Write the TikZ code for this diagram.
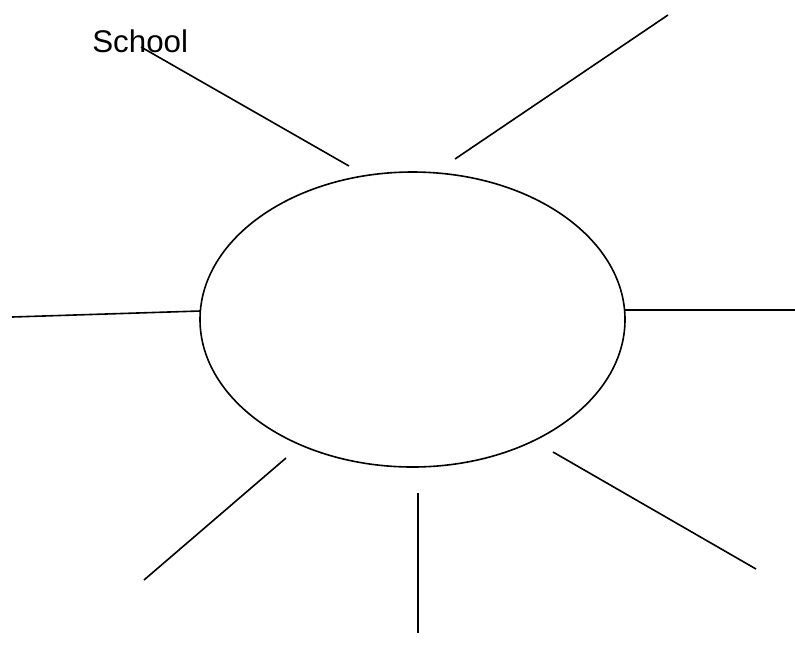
\documentclass[tikz,border=0pt]{standalone}
\usepackage{fontspec}
\setmainfont{Liberation Sans}
\usetikzlibrary{shapes.geometric}
\begin{document}
\begin{tikzpicture}[x=0.75pt,y=-0.75pt,
  ray/.style={draw=black,line width=1.2pt},
  hubstyle/.style={ellipse,draw=black,line width=1.2pt,inner sep=0pt,
    minimum width=318.75pt,minimum height=221.25pt},
  lbl/.style={font=\fontsize{23.5}{28}\selectfont,inner sep=0pt,anchor=base west}]
\useasboundingbox (0,0) rectangle (795,662);
\node[hubstyle] (hub) at (412.5,319.5) {};
\coordinate (a1) at (141,47);   \coordinate (b1) at (349,166);
\coordinate (a2) at (668,15);   \coordinate (b2) at (455,159);
\coordinate (a3) at (12,317);   \coordinate (b3) at (200,311);
\coordinate (a4) at (625,310);  \coordinate (b4) at (795,310);
\coordinate (a5) at (286,458);  \coordinate (b5) at (144,580);
\coordinate (a6) at (418,493);  \coordinate (b6) at (418,633);
\coordinate (a7) at (553,452);  \coordinate (b7) at (756,569);
\foreach \i in {1,...,7} \draw[ray] (a\i) -- (b\i);
\node[lbl] (school) at (92,52) {School};
\end{tikzpicture}
\end{document}
